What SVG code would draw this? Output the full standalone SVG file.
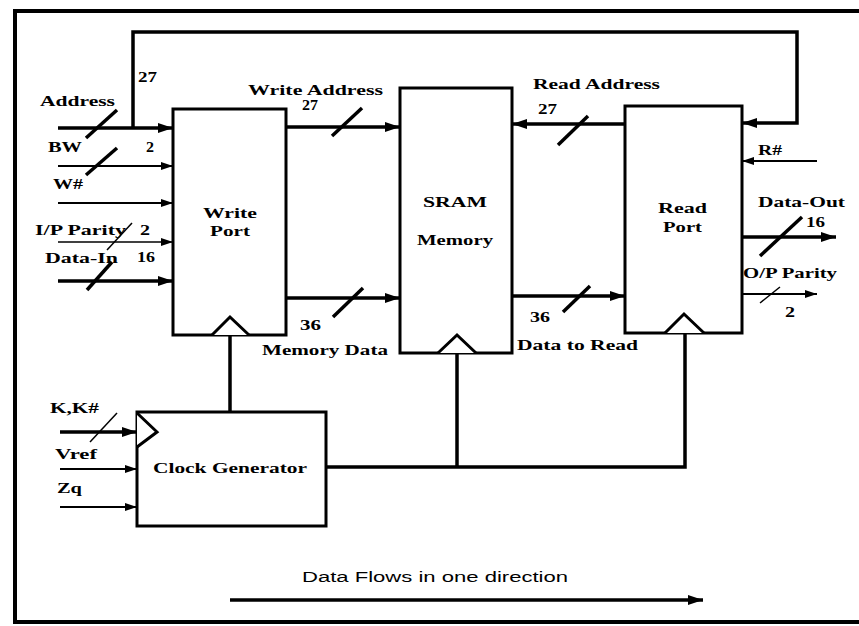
<svg xmlns="http://www.w3.org/2000/svg" width="859" height="626" viewBox="0 0 859 626">
<style>
  .box { fill: #fff; stroke: #000; stroke-width: 3; }
  .tri { fill: #fff; stroke: #000; stroke-width: 3; stroke-linejoin: miter; }
  .thick { fill: none; stroke: #000; stroke-width: 3.5; }
  .med { fill: none; stroke: #000; stroke-width: 2; }
  .thin { fill: none; stroke: #000; stroke-width: 1.5; }
  .bord { fill: none; stroke: #000; stroke-width: 4; }
  text { font-family: "Liberation Serif", "Times New Roman", serif; font-weight: bold; font-size: 15px; fill: #000; }
  .sans { font-family: "Liberation Sans", Arial, sans-serif; font-weight: normal; font-size: 14px; }
</style>
<defs>
  <marker id="ah" markerUnits="userSpaceOnUse" markerWidth="16" markerHeight="12" refX="15" refY="5" orient="auto">
    <path d="M0,0 L15,5 L0,10 Z" fill="#000"/>
  </marker>
  <marker id="ahs" markerUnits="userSpaceOnUse" markerWidth="14" markerHeight="10" refX="12" refY="4" orient="auto">
    <path d="M0,0 L12,4 L0,8 Z" fill="#000"/>
  </marker>
</defs>

<!-- outer frame -->
<path class="bord" d="M859,11 L15,11 L15,622 L859,622"/>

<g id="connectors">
  <!-- feedback loop -->
  <path class="thick" d="M133,128 L133,32 L797,32 L797,123 L742,123" marker-end="url(#ah)"/>
  <!-- left inputs -->
  <path class="thick" d="M58,128 L173,128" marker-end="url(#ah)"/>
  <path class="med" d="M58,166 L173,166" marker-end="url(#ahs)"/>
  <path class="med" d="M58,203 L173,203" marker-end="url(#ahs)"/>
  <path class="thin" d="M58,242 L173,242" marker-end="url(#ahs)"/>
  <path class="thick" d="M58,281 L173,281" marker-end="url(#ah)"/>
  <!-- bus slashes left -->
  <path class="thick" d="M86,138 L117,110"/>
  <path class="thick" d="M86,175 L117,148"/>
  <path class="thin" d="M107,250 L132,223"/>
  <path class="thick" d="M87,290 L112,262"/>
  <!-- write port to SRAM -->
  <path class="thick" d="M286,127 L400,127" marker-end="url(#ah)"/>
  <path class="thick" d="M332,136 L362,108"/>
  <path class="thick" d="M286,298 L400,298" marker-end="url(#ah)"/>
  <path class="thick" d="M333,317 L363,288"/>
  <!-- read port to SRAM -->
  <path class="thick" d="M625,124 L512,124" marker-end="url(#ah)"/>
  <path class="thick" d="M558,145 L588,116"/>
  <path class="thick" d="M512,296 L625,296" marker-end="url(#ah)"/>
  <path class="thick" d="M563,312 L590,286"/>
  <!-- right side -->
  <path class="med" d="M817,161 L742,161" marker-end="url(#ahs)"/>
  <path class="thick" d="M742,237 L836,237" marker-end="url(#ah)"/>
  <path class="thick" d="M760,256 L802,217"/>
  <path class="med" d="M742,294 L817,294" marker-end="url(#ahs)"/>
  <path class="thin" d="M760,303 L780,287"/>
  <!-- clock inputs -->
  <path class="thick" d="M60,432 L137,432" marker-end="url(#ah)"/>
  <path class="thin" d="M90,442 L117,413"/>
  <path class="med" d="M60,469 L137,469" marker-end="url(#ahs)"/>
  <path class="med" d="M60,507 L137,507" marker-end="url(#ahs)"/>
  <!-- clock distribution -->
  <path class="thick" d="M230,412 L230,335"/>
  <path class="thick" d="M326,467 L685,467 L685,333"/>
  <path class="thick" d="M457,467 L457,353"/>
  <!-- data flow arrow -->
  <path class="thick" d="M230,600 L703,600" marker-end="url(#ah)"/>
</g>

<g id="write-port">
  <rect class="box" x="173" y="109" width="113" height="226"/>
  <path class="tri" d="M212,335 L230,317 L249,335"/>
  <text x="203" y="218" textLength="54" lengthAdjust="spacingAndGlyphs">Write</text>
  <text x="210" y="236" textLength="40" lengthAdjust="spacingAndGlyphs">Port</text>
</g>

<g id="sram">
  <rect class="box" x="400" y="88" width="112" height="265"/>
  <path class="tri" d="M438,353 L457,335 L476,353"/>
  <text x="423" y="207" textLength="64" lengthAdjust="spacingAndGlyphs">SRAM</text>
  <text x="417" y="245" textLength="76" lengthAdjust="spacingAndGlyphs">Memory</text>
</g>

<g id="read-port">
  <rect class="box" x="625" y="106" width="117" height="227"/>
  <path class="tri" d="M665,333 L684,314 L704,333"/>
  <text x="658" y="213" textLength="49" lengthAdjust="spacingAndGlyphs">Read</text>
  <text x="663" y="232" textLength="39" lengthAdjust="spacingAndGlyphs">Port</text>
</g>

<g id="clock-generator">
  <rect class="box" x="137" y="412" width="189" height="114"/>
  <path class="tri" d="M137,413 L157,432 L137,447"/>
  <text x="153" y="473" textLength="154" lengthAdjust="spacingAndGlyphs">Clock Generator</text>
</g>

<g id="labels">
  <text x="40" y="106" textLength="75" lengthAdjust="spacingAndGlyphs">Address</text>
  <text x="138" y="82" textLength="19" lengthAdjust="spacingAndGlyphs">27</text>
  <text x="48" y="152" textLength="34" lengthAdjust="spacingAndGlyphs">BW</text>
  <text x="146" y="152" textLength="8" lengthAdjust="spacingAndGlyphs">2</text>
  <text x="53" y="189" textLength="30" lengthAdjust="spacingAndGlyphs">W#</text>
  <text x="35" y="235" textLength="91" lengthAdjust="spacingAndGlyphs">I/P Parity</text>
  <text x="140" y="235" textLength="10" lengthAdjust="spacingAndGlyphs">2</text>
  <text x="45" y="263" textLength="73" lengthAdjust="spacingAndGlyphs">Data-In</text>
  <text x="137" y="262" textLength="18" lengthAdjust="spacingAndGlyphs">16</text>

  <text x="248" y="95" textLength="135" lengthAdjust="spacingAndGlyphs">Write Address</text>
  <text x="302" y="110" textLength="16" lengthAdjust="spacingAndGlyphs">27</text>
  <text x="300" y="330" textLength="21" lengthAdjust="spacingAndGlyphs">36</text>
  <text x="262" y="355" textLength="126" lengthAdjust="spacingAndGlyphs">Memory Data</text>

  <text x="533" y="89" textLength="127" lengthAdjust="spacingAndGlyphs">Read Address</text>
  <text x="538" y="114" textLength="19" lengthAdjust="spacingAndGlyphs">27</text>
  <text x="530" y="322" textLength="20" lengthAdjust="spacingAndGlyphs">36</text>
  <text x="517" y="350" textLength="121" lengthAdjust="spacingAndGlyphs">Data to Read</text>

  <text x="758" y="155" textLength="24" lengthAdjust="spacingAndGlyphs">R#</text>
  <text x="758" y="207" textLength="87" lengthAdjust="spacingAndGlyphs">Data-Out</text>
  <text x="806" y="227" textLength="19" lengthAdjust="spacingAndGlyphs">16</text>
  <text x="743" y="278" textLength="94" lengthAdjust="spacingAndGlyphs">O/P Parity</text>
  <text x="785" y="317" textLength="10" lengthAdjust="spacingAndGlyphs">2</text>

  <text x="50" y="413" textLength="49" lengthAdjust="spacingAndGlyphs">K,K#</text>
  <text x="55" y="459" textLength="42" lengthAdjust="spacingAndGlyphs">Vref</text>
  <text x="57" y="493" textLength="25" lengthAdjust="spacingAndGlyphs">Zq</text>

  <text class="sans" x="302" y="582" textLength="266" lengthAdjust="spacingAndGlyphs">Data Flows in one direction</text>
</g>
</svg>
